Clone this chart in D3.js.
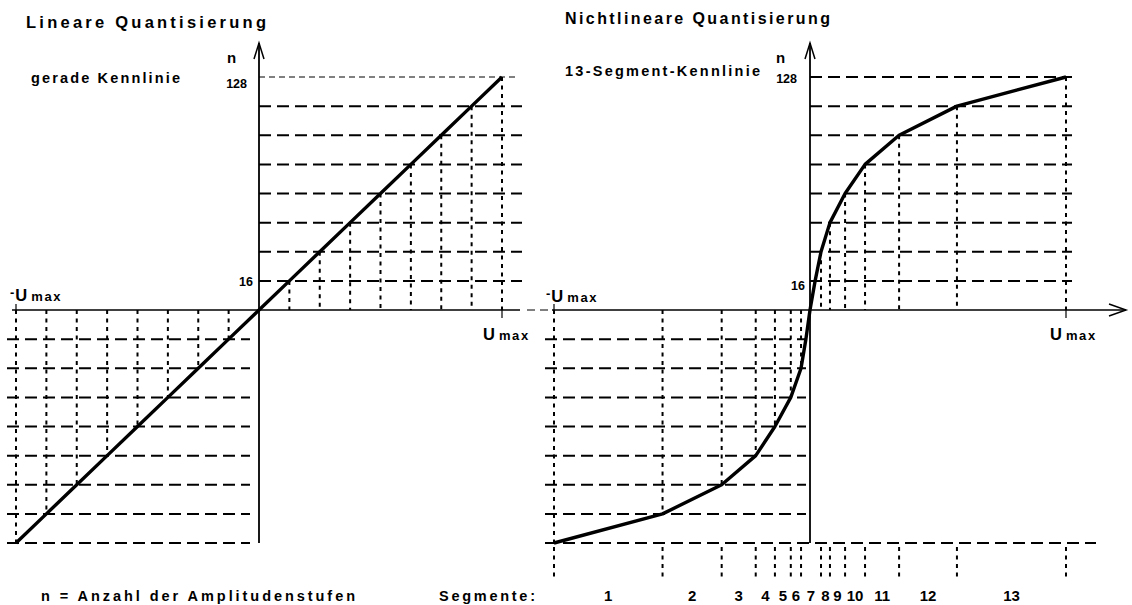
<!DOCTYPE html>
<html>
<head>
<meta charset="utf-8">
<script src="https://cdn.jsdelivr.net/npm/d3@7"></script>
<style>
  html, body { margin: 0; padding: 0; background: #fff; }
  svg { display: block; }
  text { font-family: "Liberation Sans", Arial, Helvetica, sans-serif; font-weight: bold; fill: #000; }
</style>
</head>
<body>
<svg id="chart" width="1132" height="605"></svg>
<script>
// ---------------- data ----------------
const levels = [16, 32, 48, 64, 80, 96, 112, 128];               // quantisation levels n
const linearU = [0.125, 0.25, 0.375, 0.5, 0.625, 0.75, 0.875, 1]; // linear characteristic, U/Umax at each level
const segPosU = [0.02, 0.043, 0.078, 0.137, 0.215, 0.348, 0.574, 1.0];       // 13-segment, positive side
const segNegU = [-0.016, -0.035, -0.075, -0.137, -0.212, -0.345, -0.576, -1.0]; // 13-segment, negative side
const segmentLabels = ["1","2","3","4","5","6","7","8","9","10","11","12","13"];
const yTickLabels = ["16", "128"];
const titles = ["Lineare Quantisierung", "Nichtlineare  Quantisierung"];
const subtitles = ["gerade Kennlinie", "13-Segment-Kennlinie"];
const footLeft = "n = Anzahl der Amplitudenstufen";
const footRight = "Segmente:";

// ---------------- scales ----------------
const yN = d3.scaleLinear().domain([-128, 128]).range([543, 77]);
const xL = d3.scaleLinear().domain([-1, 1]).range([16, 502]);
const xR = d3.scaleLinear().domain([-1, 1]).range([554, 1066]);

const svg = d3.select("#chart");
const g = svg.append("g");

const DASH = "12,6";
const DOT = "4,4.5";

function hline(y, x1, x2, w, dash) {
  g.append("line").attr("x1", x1).attr("x2", x2).attr("y1", y).attr("y2", y)
    .attr("stroke", "#000").attr("stroke-width", w).attr("stroke-dasharray", dash);
}
function vline(x, y1, y2, w, dash) {
  g.append("line").attr("x1", x).attr("x2", x).attr("y1", y1).attr("y2", y2)
    .attr("stroke", "#000").attr("stroke-width", w).attr("stroke-dasharray", dash || null);
}

const y0 = yN(0);

// ============ LEFT PANEL (linear) ============
levels.forEach((n) => {
  if (n === 128) hline(yN(n), xL(0), xL(1) + 16, 1, "6,4");
  else hline(yN(n), xL(0), xL(1) + 20, 2, DASH);
  hline(yN(-n), xL(-1) - 9, xL(0) - 9, 2, DASH);
});
linearU.forEach((u, i) => {
  vline(xL(u), yN(levels[i]), y0, 2, DOT);
  vline(xL(-u), y0, yN(-levels[i]), 2, DOT);
});
g.append("line").attr("x1", 12).attr("x2", 520).attr("y1", y0).attr("y2", y0).attr("stroke", "#000").attr("stroke-width", 1.5);
hline(y0, 527, 550, 1, "8,5");
vline(xL(-1), y0 - 6, y0 + 3, 1.2);
vline(xL(1), y0, y0 + 8, 1.2);
vline(xL(0), 43, 543, 1.8);
g.append("path").attr("d", `M${xL(0) - 5},59 L${xL(0)},43 L${xL(0) + 5},59`)
  .attr("fill", "none").attr("stroke", "#000").attr("stroke-width", 1.5);
const lineL = d3.line().x(d => xL(d[0])).y(d => yN(d[1]));
const linData = linearU.slice().reverse().map((u, i) => [-u, -levels[levels.length - 1 - i]])
  .concat([[0, 0]]).concat(linearU.map((u, i) => [u, levels[i]]));
g.append("path").attr("d", lineL(linData)).attr("fill", "none").attr("stroke", "#000").attr("stroke-width", 3.4);

// ============ RIGHT PANEL (13-segment) ============
levels.forEach((n) => {
  hline(yN(n), xR(0), xR(1) + 6, 2, DASH);
  hline(yN(-n), xR(-1) - 9, n === 128 ? 1096 : xR(0) - 4, 2, DASH);
});
segPosU.forEach((u, i) => { if (i > 0) vline(xR(u), yN(levels[i]), y0, 2, DOT); });
segNegU.forEach((u, i) => { if (i > 0) vline(xR(u), y0, yN(-levels[i]), 2, DOT); });
const bounds = segNegU.slice(1).reverse().concat(segPosU.slice(1));
bounds.forEach(u => vline(xR(u), 547, 579, 2, DOT));
g.append("line").attr("x1", 552).attr("x2", 1126).attr("y1", y0).attr("y2", y0).attr("stroke", "#000").attr("stroke-width", 1.5);
vline(xR(-1), y0 - 6, y0 + 3, 1.2);
vline(xR(1), y0, y0 + 8, 1.2);
vline(xR(0), 43, 543, 1.8);
g.append("path").attr("d", `M${xR(0) - 5},59 L${xR(0)},43 L${xR(0) + 5},59`)
  .attr("fill", "none").attr("stroke", "#000").attr("stroke-width", 1.5);
g.append("path").attr("d", `M1109,304 L1126,${y0} L1109,316`)
  .attr("fill", "none").attr("stroke", "#000").attr("stroke-width", 1.5);
const curveData = segNegU.slice().reverse().map((u, i) => [u, -levels[levels.length - 1 - i]])
  .concat([[0, 0]]).concat(segPosU.map((u, i) => [u, levels[i]]));
const lineR = d3.line().x(d => xR(d[0])).y(d => yN(d[1]));
g.append("path").attr("d", lineR(curveData)).attr("fill", "none").attr("stroke", "#000")
  .attr("stroke-width", 3.4).attr("stroke-linejoin", "round");

segmentLabels.forEach((lab, i) => {
  const m = (xR(bounds[i]) + xR(bounds[i + 1])) / 2;
  g.append("text").attr("x", m).attr("y", 601).attr("text-anchor", "middle")
    .style("font-size", "15px").text(lab);
});

// ============ TEXT ============
function txt(s, x, y, size, opts) {
  const t = g.append("text").attr("x", x).attr("y", y).style("font-size", size + "px").text(s);
  if (opts && opts.len) t.attr("textLength", opts.len).attr("lengthAdjust", "spacing");
  if (opts && opts.anchor) t.attr("text-anchor", opts.anchor);
  return t;
}
txt(titles[0], 26, 28, 16.5, { len: 240 });
txt(titles[1], 565, 24, 16, { len: 265 });
txt(subtitles[0], 31, 83, 14.5, { len: 149 });
txt(subtitles[1], 565, 76, 14.5, { len: 195 });
txt("n", 227, 63, 15);
txt("n", 776, 63, 15);
txt(yTickLabels[1], 247, 88, 12.5, { anchor: "end" });
txt(yTickLabels[1], 797, 83, 12.5, { anchor: "end" });
txt(yTickLabels[0], 253, 286, 12.5, { anchor: "end" });
txt(yTickLabels[0], 805, 290, 12.5, { anchor: "end" });

function umax(x, y, minus) {
  const t = g.append("text").attr("x", x).attr("y", y);
  if (minus) t.append("tspan").style("font-size", "13px").attr("dy", -4).text("-");
  t.append("tspan").style("font-size", "16.5px").attr("dy", minus ? 4 : 0).attr("dx", minus ? 1 : 0).text("U");
  t.append("tspan").style("font-size", "13px").style("letter-spacing", "1.6px").attr("dx", 4).text("max");
}
umax(10, 301, true);
umax(546, 302, true);
umax(483, 340, false);
umax(1050, 340, false);

txt(footLeft, 41, 601, 14.5, { len: 314 });
txt(footRight, 439, 601, 14.5, { len: 96 });
</script>
</body>
</html>
